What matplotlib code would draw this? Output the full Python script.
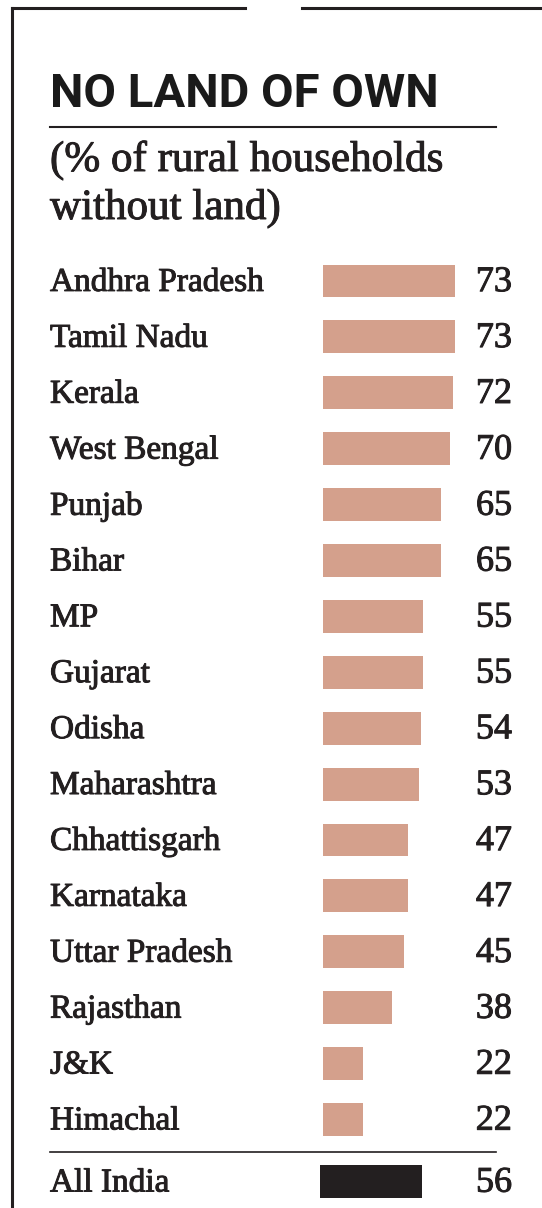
import matplotlib.pyplot as plt
import matplotlib.transforms as mtransforms
import matplotlib.patheffects as pe
from matplotlib.lines import Line2D

states = ['Andhra Pradesh', 'Tamil Nadu', 'Kerala', 'West Bengal', 'Punjab', 'Bihar',
          'MP', 'Gujarat', 'Odisha', 'Maharashtra', 'Chhattisgarh', 'Karnataka',
          'Uttar Pradesh', 'Rajasthan', 'J&K', 'Himachal']
landless = [73, 73, 72, 70, 65, 65, 55, 55, 54, 53, 47, 47, 45, 38, 22, 22]
india_label = 'All India'
india_value = 56

W, H = 542, 1208
ink = '#231F20'
fig = plt.figure(figsize=(W / 100, H / 100), dpi=100)
fig.patch.set_facecolor('white')

# one axes over the whole page, bars start at x=323px, rows 55.9px apart
px_per_unit = 1.81
row_h = 55.9
top_row = 281
ax = fig.add_axes([0, 0, 1, 1])
ax.set_xlim(-323 / px_per_unit, (W - 323) / px_per_unit)
ax.set_ylim((H - top_row) / row_h, -top_row / row_h)
ax.axis('off')

ys = list(range(len(states)))
ax.barh(ys, landless, height=0.59, left=0, color='#D4A08C')
india_y = len(states) + 0.11
ax.barh([india_y], [india_value], height=0.59, left=-1.5, color=ink)

# slightly heavier serif for the row text
heavy = [pe.withStroke(linewidth=0.7, foreground=ink)]
blend = mtransforms.blended_transform_factory(fig.transFigure, ax.transData)
serif = 'Liberation Serif'
rows = list(zip(ys, states, landless)) + [(india_y, india_label, india_value)]
for y, name, v in rows:
    ax.text(50 / W, y + 0.03, name, transform=blend, fontsize=24, family=serif,
            color=ink, va='center', ha='left', path_effects=heavy)
    ax.text(512 / W, y + 0.03, str(v), transform=blend, fontsize=26, family=serif,
            color=ink, va='center', ha='right', path_effects=heavy)

# header
fig.text(50 / W, 1 - 107 / H, 'NO LAND OF OWN', fontsize=34, fontweight='bold',
         family=['Roboto', 'DejaVu Sans'], color='#1A1A1A',
         ha='left', va='baseline')
fig.text(50 / W, 1 - 171 / H, '(% of rural households', fontsize=31, family=serif,
         color=ink, ha='left', va='baseline', path_effects=heavy)
fig.text(50 / W, 1 - 219 / H, 'without land)', fontsize=31, family=serif,
         color=ink, ha='left', va='baseline', path_effects=heavy)

# rules and frame
def hline(x0, x1, y, lw, color=ink):
    fig.add_artist(Line2D([x0 / W, x1 / W], [1 - y / H, 1 - y / H], lw=lw, color=color,
                          transform=fig.transFigure))

hline(50, 496, 127, 1.5)
hline(50, 496, 1152, 1.2)
hline(12, 245, 8, 2.2)
hline(302, 542, 8, 2.2)
fig.add_artist(Line2D([12 / W, 12 / W], [1 - 8 / H, 0], lw=2.2, color=ink,
                      transform=fig.transFigure))

fig.savefig('out.png', dpi=100, facecolor='white')
